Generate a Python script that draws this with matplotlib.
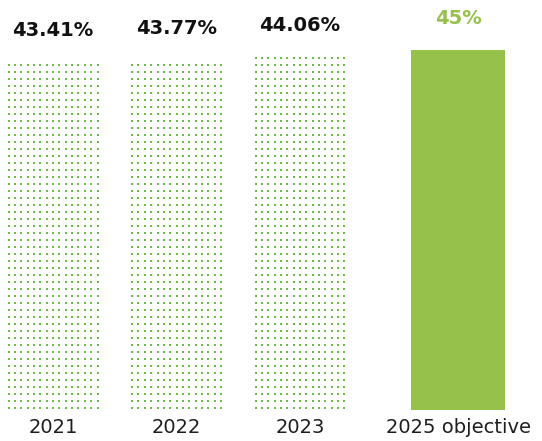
import matplotlib.pyplot as plt
import numpy as np

# values per year, plus the target
years = ["2021", "2022", "2023"]
rates = [43.41, 43.77, 44.06]
target_label = "2025 objective"
target_rate = 45

dot_green = "#6cbd45"
bar_green = "#96c24b"

fig = plt.figure(figsize=(5.42, 4.41), dpi=100)
ax = fig.add_axes([0, 31 / 441, 1, 410 / 441])

pos = np.arange(len(years), dtype=float)
target_pos = pos[-1] + 1.28
dot_width = 0.72

# dotted bars: a square grid of small dots filling each bar's extent
row_step = 0.875
for x, v in zip(pos, rates):
    xs = np.linspace(x - dot_width / 2, x + dot_width / 2, 15)
    ys = np.arange(row_step * 0.3, v, row_step)
    gx, gy = np.meshgrid(xs, ys)
    ax.scatter(gx.ravel(), gy.ravel(), s=4, marker="s", color=dot_green,
               linewidths=0)
    ax.annotate(f"{v:.2f}%", (x, v), xytext=(0, 16), textcoords="offset points",
                ha="center", va="bottom", fontsize=14, fontweight="bold",
                color="#111111")

ax.bar(target_pos, target_rate, width=0.755, color=bar_green)
ax.annotate(f"{target_rate}%", (target_pos, target_rate), xytext=(0, 16),
            textcoords="offset points", ha="center", va="bottom",
            fontsize=14, fontweight="bold", color=bar_green)

ax.set_xticks(list(pos) + [target_pos], years + [target_label])
ax.tick_params(axis="x", length=0, pad=6, labelsize=14, labelcolor="#1e1e1e")
ax.set_yticks([])
for s in ax.spines.values():
    s.set_visible(False)

ax.set_xlim(-0.43, 3.96)
ax.set_ylim(0, 51.25)

fig.savefig("out.png", dpi=100)
